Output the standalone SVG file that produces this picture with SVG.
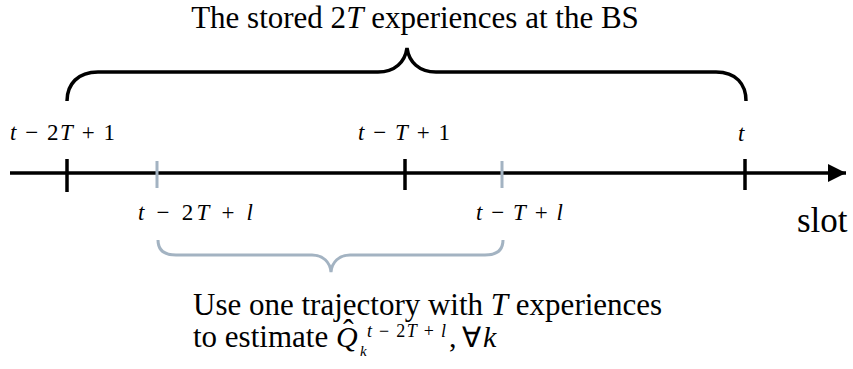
<svg xmlns="http://www.w3.org/2000/svg" width="853" height="369" viewBox="0 0 853 369">
<style>
.t{font-family:"Liberation Serif","Times New Roman",serif;fill:#000}
.m{font-family:"Liberation Serif","Times New Roman",serif;font-size:23px;fill:#000}
.i{font-style:italic}
.blk{stroke:#000;stroke-width:3.5;fill:none}
.gry{stroke:#a3b3c2;stroke-width:3;fill:none}
</style>
<defs>
<marker id="ah" markerWidth="20" markerHeight="20" refX="18" refY="10" orient="auto" markerUnits="userSpaceOnUse">
<path d="M0,1 L18,10 L0,19 Z" fill="#000"/>
</marker>
</defs>
<g id="title"><text class="t" x="415" y="28" font-size="31" text-anchor="middle">The stored 2<tspan class="i">T</tspan> experiences at the BS</text></g>
<g id="connectors">
<path id="axis" class="blk" d="M10,173 L846,173" marker-end="url(#ah)"/>
<path id="topBrace" class="blk" stroke-width="3" d="M67,101 C67,84 78,72 98,72 L378,72 C395,72 405,62 407,48 C409,62 419,72 436,72 L716,72 C736,72 746,84 746,101"/>
<path id="botBrace" class="gry" stroke-width="2.5" d="M158,240 C158,250 164,255 176,255 L312,255 C323,255 330,262 331,272 C332,262 339,255 350,255 L485,255 C497,255 503,250 503,240"/>
</g>
<g id="tick1"><line class="blk" x1="67" y1="159" x2="67" y2="192"/><text class="m" x="10" y="140" textLength="105" lengthAdjust="spacing"><tspan class="i">t</tspan> − 2<tspan class="i">T</tspan> + 1</text></g>
<g id="tick2"><line class="gry" x1="157" y1="161" x2="157" y2="188"/><text class="m" x="138" y="220" textLength="115" lengthAdjust="spacing"><tspan class="i">t</tspan> − 2<tspan class="i">T</tspan> + <tspan class="i">l</tspan></text></g>
<g id="tick3"><line class="blk" x1="405" y1="159" x2="405" y2="190"/><text class="m" x="358" y="140" textLength="92" lengthAdjust="spacing"><tspan class="i">t</tspan> − <tspan class="i">T</tspan> + 1</text></g>
<g id="tick4"><line class="gry" x1="502" y1="161" x2="502" y2="188"/><text class="m" x="476" y="220" textLength="87" lengthAdjust="spacing"><tspan class="i">t</tspan> − <tspan class="i">T</tspan> + <tspan class="i">l</tspan></text></g>
<g id="tick5"><line class="blk" x1="745" y1="159" x2="745" y2="190"/><text class="m i" x="738" y="141" font-size="28">t</text></g>
<g id="slot"><text class="t" x="797" y="232" font-size="35">slot</text></g>
<g id="note">
<text class="t" x="193" y="315" font-size="31">Use one trajectory with <tspan class="i">T</tspan> experiences</text>
<text class="t" x="193" y="347" font-size="31">to estimate<tspan class="i" x="336" font-size="30">Q</tspan><tspan x="343" dy="-6" font-size="32">ˆ</tspan><tspan class="i" x="360" dy="15" font-size="15">k</tspan><tspan x="367" dy="-19" font-size="18" letter-spacing="1.3"><tspan class="i">t</tspan> − 2<tspan class="i">T</tspan> + <tspan class="i">l</tspan></tspan><tspan x="449" dy="10" font-size="30">,</tspan><tspan x="462" font-size="28">∀</tspan><tspan class="i" x="483" font-size="30">k</tspan></text>
</g>
</svg>
